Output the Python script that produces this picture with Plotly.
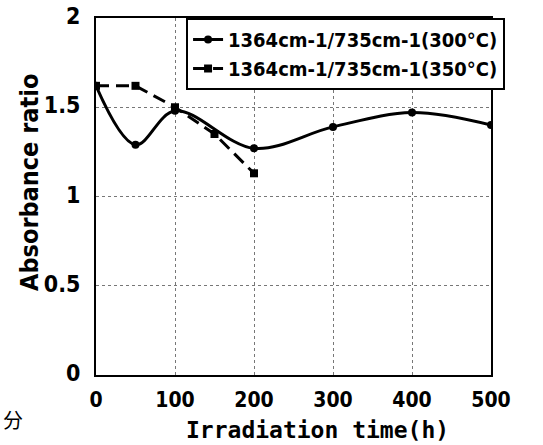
import plotly.graph_objects as go

time_300 = [0, 50, 100, 200, 300, 400, 500]
ratio_300 = [1.62, 1.29, 1.48, 1.27, 1.39, 1.47, 1.40]
time_350 = [0, 50, 100, 150, 200]
ratio_350 = [1.62, 1.62, 1.50, 1.35, 1.13]
name_300 = "1364cm-1/735cm-1(300°C)"
name_350 = "1364cm-1/735cm-1(350°C)"
x_ticks = [0, 100, 200, 300, 400, 500]
y_ticks = [0, 0.5, 1, 1.5, 2]
y_tick_text = ["0", "0.5", "1", "1.5", "2"]
x_title = "Irradiation time(h)"
y_title = "Absorbance ratio"

FONT = "DejaVu Sans Condensed"

fig = go.Figure()
fig.add_trace(go.Scatter(
    x=time_300, y=ratio_300, name=name_300, mode="lines+markers",
    line=dict(color="black", width=3, shape="spline", smoothing=1.0),
    marker=dict(symbol="circle", size=8, color="black"),
))
fig.add_trace(go.Scatter(
    x=time_350, y=ratio_350, name=name_350, mode="lines+markers",
    line=dict(color="black", width=3, dash="13px,7px"),
    marker=dict(symbol="square", size=8, color="black"),
))

fig.update_layout(
    width=543, height=445,
    margin=dict(l=96, r=52, t=18, b=70, autoexpand=False),
    paper_bgcolor="white", plot_bgcolor="white",
    font=dict(family=FONT, color="black", size=16),
    showlegend=True,
    legend=dict(
        x=0.228, y=1.0, xanchor="left", yanchor="top",
        bordercolor="black", borderwidth=2, bgcolor="white",
        font=dict(family=FONT, size=20, weight="bold"),
        tracegroupgap=0, itemwidth=30,
    ),
    xaxis=dict(
        range=[0, 500], tickvals=x_ticks, ticks="", showline=True, mirror=True,
        linecolor="black", linewidth=2, showgrid=True, gridcolor="#777",
        griddash="dot", gridwidth=1, zeroline=False, automargin=False,
        tickfont=dict(family=FONT, size=21, weight="bold"),
        ticklabelstandoff=5, ticklabeloverflow="allow",
    ),
    yaxis=dict(
        range=[0, 2], tickvals=y_ticks, ticktext=y_tick_text, ticks="",
        showline=True, mirror=True, linecolor="black", linewidth=2,
        showgrid=True, gridcolor="#777", griddash="dot", gridwidth=1,
        zeroline=False, automargin=False,
        tickfont=dict(family=FONT, size=23, weight="bold"),
        ticklabelstandoff=9, ticklabelshift=-2, ticklabeloverflow="allow",
    ),
)
fig.add_annotation(
    text=y_title, x=-0.167, y=0.538, xref="paper", yref="paper",
    showarrow=False, textangle=-90, xanchor="center", yanchor="middle",
    font=dict(family=FONT, size=25, weight="bold", color="black"),
)
fig.add_annotation(
    text=x_title, x=0.562, y=-0.154, xref="paper", yref="paper",
    showarrow=False, xanchor="center", yanchor="middle",
    font=dict(family="DejaVu Sans Mono", size=23, weight="bold", color="black"),
)
fig.add_annotation(
    text="分", x=-0.241, y=-0.125, xref="paper", yref="paper",
    showarrow=False, xanchor="left", yanchor="middle",
    font=dict(family="Noto Sans CJK SC", size=20, color="black"),
)

fig.write_html("out.html",
               config={"displayModeBar": False},
               post_script="document.body.style.margin='0';")
